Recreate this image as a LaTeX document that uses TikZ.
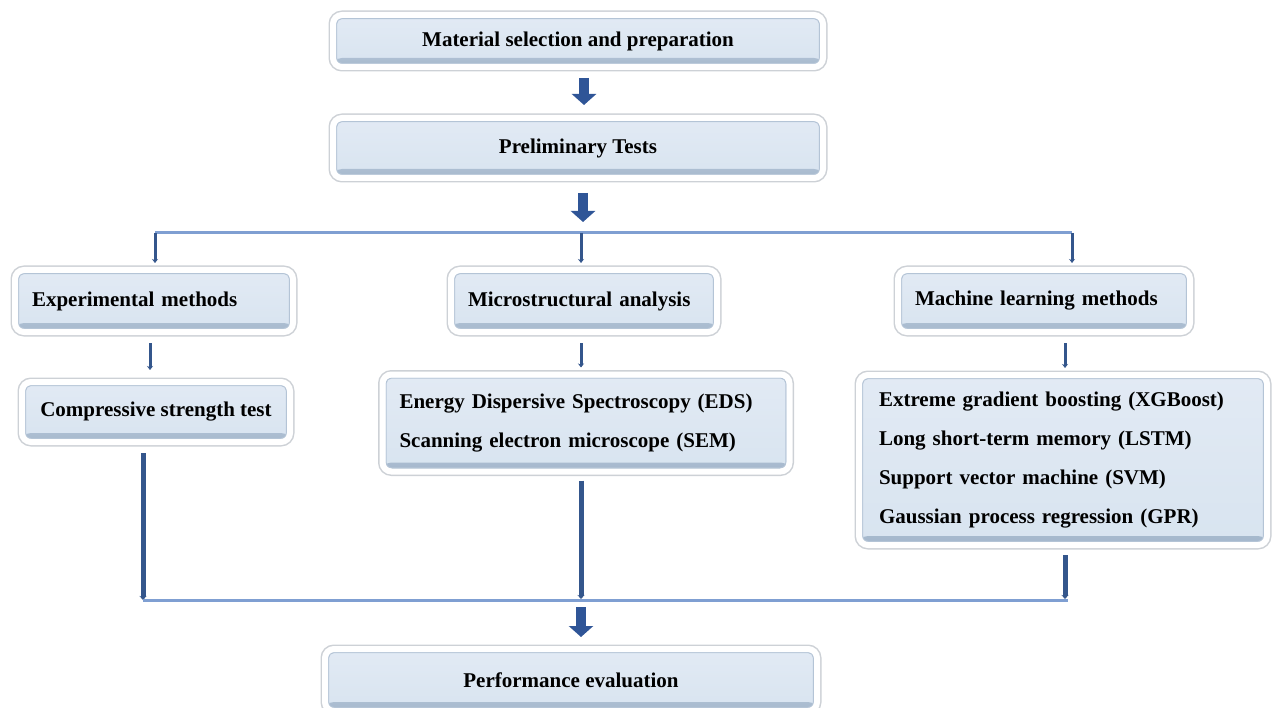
\documentclass[tikz,border=0pt]{standalone}
\usepackage{fontspec}
\setmainfont{Liberation Serif}
\usetikzlibrary{arrows.meta,shadows}
\definecolor{boxfill}{HTML}{D8E4F0}
\definecolor{boxtop}{HTML}{E2EAF4}
\definecolor{boxbot}{HTML}{A3B6CB}
\definecolor{boxedge}{HTML}{B4C4D6}
\definecolor{haloc}{HTML}{CDD1D6}
\definecolor{darkarrow}{HTML}{2F5597}
\definecolor{thinline}{HTML}{7F9FD2}
\definecolor{dropline}{HTML}{34568C}
\tikzset{
  stepbox/.style={rounded corners=9pt, draw=white, line width=6pt,
    preaction={draw=haloc, line width=9pt},
    top color=boxtop, bottom color=boxfill,
    path picture={
      \shade[top color=boxfill, bottom color=boxbot]
        ([yshift=-2pt]path picture bounding box.south west) rectangle ([yshift=9pt]path picture bounding box.south east);
      \draw[boxedge, line width=1.2pt, rounded corners=5pt]
        ([shift={(3.6pt,3.6pt)}]path picture bounding box.south west) rectangle ([shift={(-3.6pt,-3.6pt)}]path picture bounding box.north east);
    },
    font=\bfseries\fontsize{21}{24}\selectfont, inner sep=0pt},
  leftbox/.style={stepbox, align=left},
  blockarrow/.style={darkarrow, line width=10pt,
    -{Triangle[width=24pt,length=11pt]}},
  droparrow/.style={dropline, line width=3pt, -{Stealth[width=6pt,length=4pt]}},
  thickdrop/.style={dropline, line width=5pt, -{Stealth[width=7pt,length=4pt]}},
  hline/.style={thinline, line width=3pt},
}
\begin{document}
\begin{tikzpicture}[x=1pt,y=-1pt]
\useasboundingbox (0,0) rectangle (1273,708);
\begin{scope}
\clip (0,0) rectangle (1273,708);
\node[stepbox, minimum width=490pt, minimum height=52pt] (m1) at (578,41) {Material selection and preparation};
\node[stepbox, minimum width=490pt, minimum height=60pt] (m2) at (578,148) {Preliminary Tests};
\node[leftbox, minimum width=278pt, minimum height=62pt, text width=244pt] (exp) at (154,301) {Experimental methods};
\node[leftbox, minimum width=266pt, minimum height=62pt, text width=232pt] (mic) at (584,301) {Microstructural analysis};
\node[leftbox, minimum width=292pt, minimum height=62pt, text width=258pt] (ml) at (1044,301) {Machine learning methods};
\node[stepbox, minimum width=268pt, minimum height=60pt] (cst) at (156,412) {Compressive strength test};
\node[leftbox, minimum width=407pt, minimum height=97pt, text width=373pt, font=\bfseries\fontsize{21}{39}\selectfont] (eds) at (586,423) {Energy Dispersive Spectroscopy (EDS)\\Scanning electron microscope (SEM)};
\node[leftbox, minimum width=408pt, minimum height=170pt, text width=368pt, font=\bfseries\fontsize{21}{39}\selectfont] (mll) at (1063,460) {Extreme gradient boosting (XGBoost)\\Long short-term memory (LSTM)\\Support vector machine (SVM)\\Gaussian process regression (GPR)};
\node[stepbox, minimum width=492pt, minimum height=62pt] (perf) at (571,680) {Performance evaluation};

% top arrows
\draw[blockarrow, shorten <=8pt, shorten >=10pt] (m1.south -| 584,0) -- (m2.north -| 584,0);
\coordinate (hL) at (155,233);
\coordinate (hM) at (581,233);
\coordinate (hR) at (1072,233);
\coordinate (brtip) at (583,222);
\draw[blockarrow, shorten <=12pt] (m2.south -| brtip) -- (brtip);
\draw[hline] (hL) -- (hR);
\draw[droparrow, shorten >=4pt] (hL) -- (hL |- exp.north);
\draw[droparrow, shorten >=4pt] (hM) -- (hM |- mic.north);
\draw[droparrow, shorten >=4pt] (hR) -- (hR |- ml.north);

% second layer
\coordinate (c1) at (150,0);
\coordinate (c2) at (581,0);
\coordinate (c3) at (1065,0);
\draw[droparrow, shorten <=8pt, shorten >=9pt] (exp.south -| c1) -- (cst.north -| c1);
\draw[droparrow, shorten <=8pt, shorten >=4pt] (mic.south -| c2) -- (eds.north -| c2);
\draw[droparrow, shorten <=8pt, shorten >=4pt] (ml.south -| c3) -- (mll.north -| c3);

% bottom
\coordinate (bL) at (143,600);
\coordinate (bM) at (581,600);
\coordinate (bR) at (1068,600);
\draw[thickdrop, shorten <=8pt] (cst.south -| bL) -- (bL);
\draw[thickdrop, shorten <=6pt, shorten >=1pt] (eds.south -| bM) -- (bM);
\draw[thickdrop, shorten <=7pt, shorten >=1pt] (mll.south -| c3) -- (bR -| c3);
\draw[hline] (bL) -- (bR);
\coordinate (pa) at (581,607);
\draw[blockarrow, shorten >=9pt] (pa) -- (perf.north -| pa);
\end{scope}
\end{tikzpicture}
\end{document}
